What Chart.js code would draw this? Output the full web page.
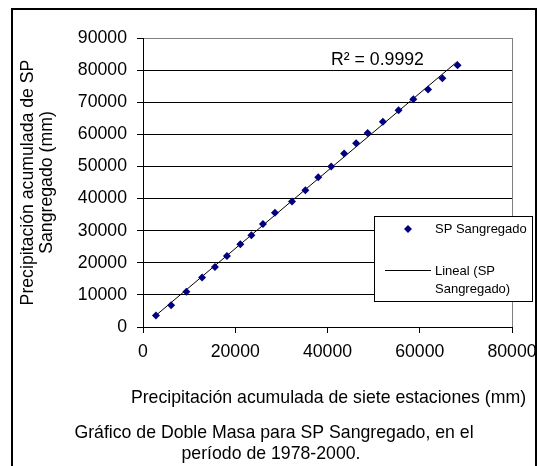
<!DOCTYPE html>
<html>
<head>
<meta charset="utf-8">
<script src="https://cdn.jsdelivr.net/npm/chart.js@4/dist/chart.umd.min.js"></script>
<style>
  html, body { margin: 0; padding: 0; background: #fff; }
  #wrap { position: relative; width: 539px; height: 466px; overflow: hidden; }
</style>
</head>
<body>
<div id="wrap"><canvas id="chart" width="539" height="466"></canvas></div>
<script>
/** Data (mm, accumulated) */
const sevenStations = [2800, 6100, 9400, 12800, 15600, 18200, 21100, 23500, 26000, 28600, 32300, 35200,
    38000, 40800, 43600, 46200, 48700, 52000, 55400, 58600, 61800, 64900, 68200];
const spSangregado = [3600, 6800, 11000, 15400, 18700, 22100, 25800, 28600, 32100, 35600, 39100, 42600,
    46600, 50000, 54000, 57200, 60400, 63900, 67500, 70900, 74000, 77500, 81500];
const rSquaredLabel = 'R\u00B2 = 0.9992';
const seriesName = 'SP Sangregado';
const trendName = ['Lineal (SP', 'Sangregado)'];
const xTitle = 'Precipitación acumulada de siete estaciones (mm)';
const yTitle = ['Precipitación acumulada de SP', 'Sangregado (mm)'];
const caption = ['Gráfico de Doble Masa para SP Sangregado, en el', 'período de 1978-2000.'];

const FONT = '"Liberation Sans", Arial, sans-serif';
const NAVY = '#000080';

/** Local functions */
let Local = {
    points: function () {
        return sevenStations.map((x, i) => ({ x: x, y: spSangregado[i] }));
    },
    // least squares line over the data range (Excel linear trendline)
    trend: function () {
        const n = sevenStations.length;
        let sx = 0, sy = 0, sxx = 0, sxy = 0;
        for (let i = 0; i < n; i++) {
            sx += sevenStations[i]; sy += spSangregado[i];
            sxx += sevenStations[i] * sevenStations[i];
            sxy += sevenStations[i] * spSangregado[i];
        }
        const b = (n * sxy - sx * sy) / (n * sxx - sx * sx);
        const a = (sy - b * sx) / n;
        const x0 = Math.min(...sevenStations), x1 = Math.max(...sevenStations);
        return [{ x: x0, y: a + b * x0 }, { x: x1, y: a + b * x1 }];
    },
    diamond: function (ctx, x, y, r) {
        ctx.beginPath();
        ctx.moveTo(x, y - r); ctx.lineTo(x + r, y); ctx.lineTo(x, y + r); ctx.lineTo(x - r, y);
        ctx.closePath();
        ctx.fillStyle = NAVY;
        ctx.fill();
    }
};

// outer frame, R² text, legend box, x title and caption
const extras = {
    id: 'extras',
    afterDraw: function (chart) {
        const ctx = chart.ctx;
        const area = chart.chartArea;
        ctx.save();
        // chart frame (bottom edge falls outside the picture)
        ctx.fillStyle = '#000';
        ctx.fillRect(11, 8, 526, 2);
        ctx.fillRect(11, 8, 2, 458);
        ctx.fillRect(535, 8, 2, 458);

        ctx.font = '17.7px ' + FONT;
        ctx.textBaseline = 'middle';
        ctx.textAlign = 'left';
        ctx.fillText(rSquaredLabel, 331, 60);

        // legend
        ctx.fillStyle = '#fff';
        ctx.fillRect(374, 216, 158, 85);
        ctx.strokeStyle = '#000';
        ctx.lineWidth = 1;
        ctx.strokeRect(374.5, 216.5, 158, 85);
        Local.diamond(ctx, 408, 229, 4);
        ctx.beginPath();
        ctx.moveTo(385, 270.5); ctx.lineTo(431, 270.5);
        ctx.strokeStyle = '#000';
        ctx.stroke();
        ctx.fillStyle = '#000';
        ctx.font = '13px ' + FONT;
        ctx.fillText(seriesName, 435, 229);
        ctx.fillText(trendName[0], 435, 271);
        ctx.fillText(trendName[1], 435, 289);

        // x axis title (wider than the plot, so not through the scale)
        ctx.font = '17.7px ' + FONT;
        ctx.textAlign = 'center';
        ctx.fillText(xTitle, (area.left + area.right) / 2 + 1, 398);

        // caption
        ctx.fillText(caption[0], 274, 433);
        ctx.fillText(caption[1], 271, 454);
        ctx.restore();
    }
};

new Chart(document.getElementById('chart'), {
    type: 'scatter',
    data: {
        datasets: [{
            label: seriesName,
            data: Local.points(),
            pointStyle: 'rectRot',
            pointRadius: 4,
            pointBorderWidth: 0,
            backgroundColor: NAVY,
            borderColor: NAVY,
            order: 1
        }, {
            label: trendName.join(' '),
            type: 'line',
            data: Local.trend(),
            borderColor: '#000',
            borderWidth: 1,
            pointRadius: 0,
            fill: false,
            order: 2
        }]
    },
    options: {
        responsive: false,
        animation: false,
        devicePixelRatio: 1,
        layout: { padding: { left: 12, top: 38, right: 27, bottom: 54 } },
        plugins: { legend: { display: false }, tooltip: { enabled: false } },
        scales: {
            x: {
                type: 'linear', min: 0, max: 80000,
                ticks: { stepSize: 20000, color: '#000', padding: 8, font: { family: FONT, size: 17.7 }, callback: v => String(v) },
                grid: {
                    drawOnChartArea: true,
                    color: c => (c.tick && c.tick.value === 80000) ? '#808080' : 'rgba(0,0,0,0)',
                    tickColor: '#000', tickLength: 6, lineWidth: 1
                },
                border: { color: '#000', width: 1 },
                title: { display: false },
                afterFit: function (scale) {
                    scale.height = 85;
                    scale.paddingLeft = 0;
                    scale.paddingRight = 0;
                }
            },
            y: {
                type: 'linear', min: 0, max: 90000,
                ticks: { stepSize: 10000, color: '#000', padding: 10, font: { family: FONT, size: 17.7 }, callback: v => String(v) },
                grid: {
                    color: c => (c.tick && c.tick.value === 90000) ? '#808080' : '#000',
                    tickColor: '#000', tickLength: 6, lineWidth: 1
                },
                border: { color: '#000', width: 1 },
                title: { display: true, text: yTitle, color: '#000', padding: { top: 7, bottom: 0 }, font: { family: FONT, size: 17.7, lineHeight: 1.05 } },
                afterFit: function (scale) { scale.width = 131; }
            }
        }
    },
    plugins: [extras]
});
</script>
</body>
</html>
